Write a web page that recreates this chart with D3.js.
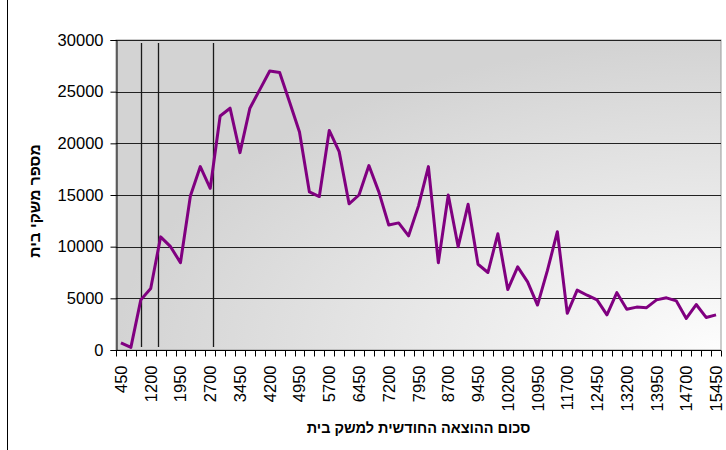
<!DOCTYPE html>
<html>
<head>
<meta charset="utf-8">
<script src="https://cdn.jsdelivr.net/npm/d3@7"></script>
<style>
  body { margin: 0; background: #fff; }
  svg { display: block; font-family: Arial, 'Liberation Sans', sans-serif; }
</style>
</head>
<body>
<div id="chart"></div>
<script>
// monthly household spending (category) and number of households
const categories = [450, 700, 950, 1200, 1450, 1700, 1950, 2200, 2450, 2700, 2950, 3200, 3450, 3700, 3950,
  4200, 4450, 4700, 4950, 5200, 5450, 5700, 5950, 6200, 6450, 6700, 6950, 7200, 7450, 7700, 7950,
  8200, 8450, 8700, 8950, 9200, 9450, 9700, 9950, 10200, 10450, 10700, 10950, 11200, 11450, 11700,
  11950, 12200, 12450, 12700, 12950, 13200, 13450, 13700, 13950, 14200, 14450, 14700, 14950, 15200, 15450]
const households = [700, 250, 4850, 5950, 10950, 10000, 8450, 14900, 17750, 15650, 22650, 23400, 19100, 23400, 25200,
  27000, 26850, 24000, 21100, 15300, 14850, 21250, 19200, 14150, 15000, 17850, 15300, 12100, 12300, 11050, 13950,
  17750, 8450, 15000, 10000, 14100, 8300, 7500, 11250, 5850, 8050, 6600, 4350, 7700, 11450, 3550,
  5800, 5300, 4850, 3400, 5550, 3950, 4150, 4100, 4850, 5050, 4750, 3050, 4400, 3150, 3400]
const yTicks = [0, 5000, 10000, 15000, 20000, 25000, 30000]
const markerLines = [950, 1390, 2760]
const xTitle = 'סכום ההוצאה החודשית למשק בית'
const yTitle = 'מספר משקי בית'

const width = 726
const height = 450
const marginLeft = 116
const marginRight = 5
const marginTop = 40
const marginBottom = 100

const svg = d3.select('#chart').append('svg')
  .attr('width', width)
  .attr('height', height)

const x = d3.scaleBand()
  .domain(categories)
  .range([marginLeft, width - marginRight])
const bw = x.bandwidth()
const y = d3.scaleLinear()
  .domain([0, 30000])
  .range([height - marginBottom, marginTop])
const xv = d3.scaleLinear()
  .domain([categories[0], categories[categories.length - 1]])
  .range([x(categories[0]) + bw / 2, x(categories[categories.length - 1]) + bw / 2])

const plotW = width - marginRight - marginLeft
const plotH = height - marginBottom - marginTop

// chart area left border
svg.append('line')
  .attr('x1', 7.5).attr('x2', 7.5).attr('y1', 0).attr('y2', height)
  .attr('stroke', '#000')

// plot area background
const defs = svg.append('defs')
const grad = defs.append('radialGradient')
  .attr('id', 'bg')
  .attr('cx', 1).attr('cy', 1).attr('r', 1)
  .attr('fx', 1).attr('fy', 1)
grad.append('stop').attr('offset', 0).attr('stop-color', '#fdfdfd')
grad.append('stop').attr('offset', 1).attr('stop-color', '#d3d3d3')

svg.append('rect')
  .attr('x', marginLeft).attr('y', marginTop)
  .attr('width', plotW).attr('height', plotH)
  .attr('fill', 'url(#bg)')
  .attr('stroke', '#9a9a9a')

// horizontal gridlines
svg.append('g')
  .selectAll('line')
  .data(yTicks.slice(1))
  .enter()
  .append('line')
  .attr('x1', marginLeft).attr('x2', width - marginRight)
  .attr('y1', d => Math.round(y(d)) + 0.5).attr('y2', d => Math.round(y(d)) + 0.5)
  .attr('stroke', '#222')

// vertical marker lines
svg.append('g')
  .selectAll('line')
  .data(markerLines)
  .enter()
  .append('line')
  .attr('x1', d => Math.round(xv(d)) + 0.5).attr('x2', d => Math.round(xv(d)) + 0.5)
  .attr('y1', marginTop + 3).attr('y2', height - marginBottom - 3)
  .attr('stroke', '#1a1a1a')
  .attr('stroke-width', 1.3)

// y axis
const yAxis = d3.axisLeft(y).tickValues(yTicks).tickSize(6).tickPadding(7).tickFormat(d3.format('d'))
const gy = svg.append('g')
  .attr('transform', 'translate(' + (marginLeft + 0.5) + ',0)')
  .call(yAxis)
gy.select('.domain').attr('stroke', '#000')
gy.selectAll('.tick text').attr('font-size', 16.5).attr('fill', '#000').attr('font-family', 'Arial, Liberation Sans, sans-serif')

// x axis: ticks between categories, labels every 3rd category
const gx = svg.append('g')
  .attr('transform', 'translate(0,' + (height - marginBottom + 0.5) + ')')
gx.append('line')
  .attr('x1', marginLeft).attr('x2', width - marginRight)
  .attr('stroke', '#000')
gx.selectAll('line.tick')
  .data(categories.concat(['end']))
  .enter()
  .append('line')
  .attr('class', 'tick')
  .attr('x1', (d, i) => Math.round(marginLeft + i * bw) + 0.5)
  .attr('x2', (d, i) => Math.round(marginLeft + i * bw) + 0.5)
  .attr('y1', 0).attr('y2', 6)
  .attr('stroke', '#000')
gx.selectAll('text')
  .data(categories.filter((d, i) => i % 3 === 0))
  .enter()
  .append('text')
  .attr('transform', d => 'translate(' + (x(d) + bw / 2 + 6) + ',15) rotate(-90)')
  .attr('text-anchor', 'end')
  .attr('font-size', 16.5)
  .text(d => d)

// data line
const line = d3.line()
  .x((d, i) => x(categories[i]) + bw / 2)
  .y(d => y(d))
svg.append('path')
  .datum(households)
  .attr('d', line)
  .attr('fill', 'none')
  .attr('stroke', '#800080')
  .attr('stroke-width', 3)
  .attr('stroke-linejoin', 'round')

// axis titles
svg.append('text')
  .attr('x', marginLeft + plotW / 2)
  .attr('y', 433)
  .attr('text-anchor', 'middle')
  .attr('font-size', 14.5)
  .attr('font-weight', 'bold')
  .attr('direction', 'rtl')
  .text(xTitle)

svg.append('text')
  .attr('transform', 'translate(40,' + (marginTop + plotH / 2 + 6) + ') rotate(-90)')
  .attr('text-anchor', 'middle')
  .attr('font-size', 15.5)
  .attr('font-weight', 'bold')
  .attr('direction', 'rtl')
  .text(yTitle)
</script>
</body>
</html>
